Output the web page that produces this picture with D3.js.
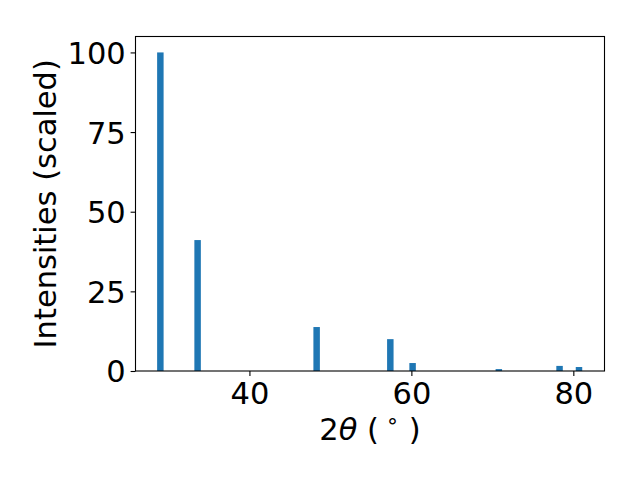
<!DOCTYPE html>
<html>
<head>
<meta charset="utf-8">
<script src="https://cdn.jsdelivr.net/npm/d3@7"></script>
<style>
  html, body { margin: 0; padding: 0; background: #fff; }
  svg { display: block; }
  text { font-family: "DejaVu Sans", sans-serif; fill: #000; }
</style>
</head>
<body>
<svg id="chart" width="640" height="480"></svg>
<script>
// Data
const twoTheta = [29.0, 33.6, 48.3, 57.4, 60.15, 70.8, 78.3, 80.7];
const intensity = [100, 41.1, 13.8, 10.0, 2.5, 0.6, 1.6, 1.25];
const xTicks = [40, 60, 80];
const yTicks = [0, 25, 50, 75, 100];
const barWidth = 0.8;

const svg = d3.select("#chart");
const L = 135.5, R = 604.5, T = 36.5, B = 371;
const xs = d3.scaleLinear().domain([25.93, 83.85]).range([L, R]);
const ys = d3.scaleLinear().domain([0, 105]).range([B, T]);
const fs = 30.5;

// bars
svg.append("g").selectAll("rect").data(twoTheta).join("rect")
  .attr("x", (d) => xs(d - barWidth / 2))
  .attr("width", (d) => xs(d + barWidth / 2) - xs(d - barWidth / 2))
  .attr("y", (d, i) => ys(intensity[i]))
  .attr("height", (d, i) => ys(0) - ys(intensity[i]))
  .attr("fill", "#1f77b4");

// axes
const xAxis = d3.axisBottom(xs).tickValues(xTicks).tickSize(4.9).tickPadding(4.9).tickFormat(d3.format("d"));
const yAxis = d3.axisLeft(ys).tickValues(yTicks).tickSize(4.9).tickPadding(4.9).tickFormat(d3.format("d"));

const gx = svg.append("g").attr("transform", `translate(0,${B})`).call(xAxis);
const gy = svg.append("g").attr("transform", `translate(${L},0)`).call(yAxis);
[gx, gy].forEach(g => {
  g.select(".domain").remove();
  g.selectAll(".tick line").attr("stroke", "#000").attr("stroke-width", 1.1);
  g.selectAll(".tick text").attr("font-family", "DejaVu Sans").attr("font-size", fs).attr("fill", "#000");
});
gy.selectAll(".tick text").attr("dy", "0.36em");
gx.selectAll(".tick text").attr("dy", "0.76em");

// frame
svg.append("rect").attr("x", L).attr("y", T).attr("width", R - L).attr("height", B - T)
  .attr("fill", "none").attr("stroke", "#000").attr("stroke-width", 1.1);

// x label: 2θ (°)
const xl = svg.append("text").attr("x", (L + R) / 2).attr("y", 440)
  .attr("text-anchor", "middle").attr("font-size", fs);
xl.append("tspan").text("2");
xl.append("tspan").attr("font-style", "italic").text("θ");
xl.append("tspan").text(" (");
xl.append("tspan").attr("font-size", fs * 0.7).attr("dy", -12).text(" ∘");
xl.append("tspan").attr("dy", 12).text(" )");

// y label
svg.append("text")
  .attr("transform", `translate(56,${(T + B) / 2}) rotate(-90)`)
  .attr("text-anchor", "middle").attr("font-size", fs)
  .text("Intensities (scaled)");
</script>
</body>
</html>
